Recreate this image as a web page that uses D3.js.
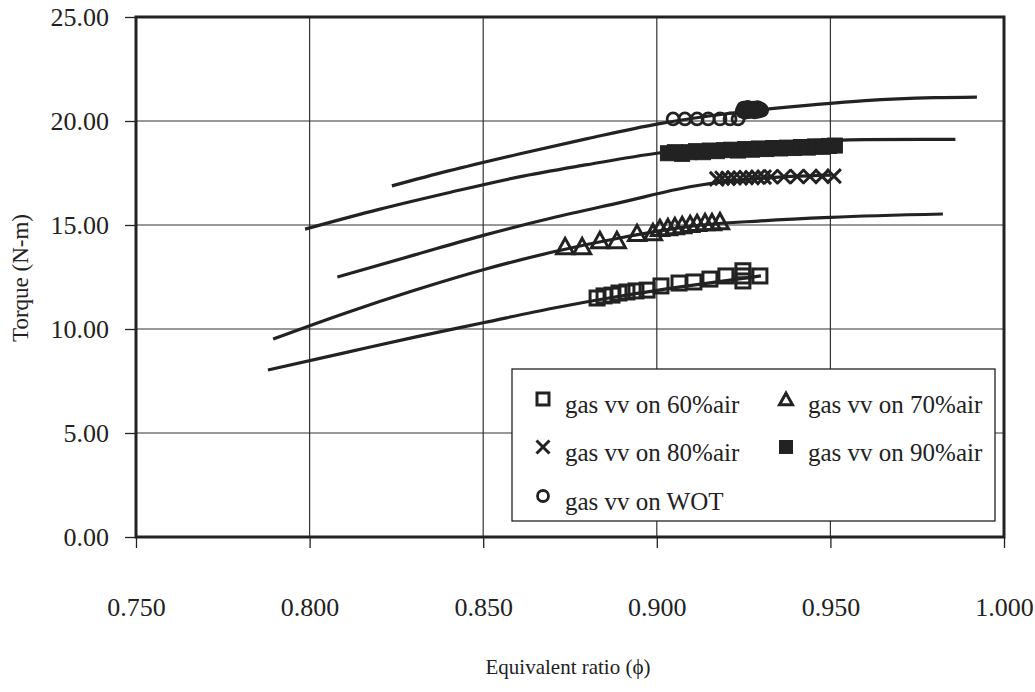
<!DOCTYPE html>
<html><head><meta charset="utf-8">
<script src="https://cdn.jsdelivr.net/npm/d3@7"></script>
<style>
body{margin:0;background:#fff;}
text{font-family:"Liberation Serif","Times New Roman",serif;fill:#222;}
</style></head>
<body><svg id="c" width="1035" height="692"></svg>
<script>
// ---- data ----
const xTicks = [0.750, 0.800, 0.850, 0.900, 0.950, 1.000];
const yTicks = [0, 5, 10, 15, 20, 25];

const sq60X = [0.8828,0.8848,0.8871,0.8891,0.8914,0.8940,0.8972,0.9012,0.9064,0.9107,0.9153,0.9199,0.9248,0.9248,0.9248,0.9297];
const sq60Y = [11.49,11.59,11.63,11.73,11.78,11.83,11.87,12.07,12.21,12.26,12.40,12.55,12.80,12.55,12.31,12.55];

const tri70X = [0.8736,0.8785,0.8836,0.8885,0.8943,0.8989,0.9009,0.9032,0.9052,0.9073,0.9096,0.9116,0.9139,0.9159,0.9182];
const tri70Y = [13.99,13.99,14.28,14.28,14.62,14.66,14.86,14.90,14.95,15.00,15.05,15.10,15.14,15.14,15.19];

const x80X = [0.9173,0.9188,0.9205,0.9222,0.9240,0.9257,0.9274,0.9291,0.9309,0.9329,0.9366,0.9404,0.9441,0.9476,0.9510];
const x80Y = [17.22,17.25,17.24,17.27,17.26,17.28,17.28,17.30,17.30,17.32,17.32,17.33,17.33,17.34,17.35];

const fs90X = [0.9032,0.9052,0.9073,0.9093,0.9113,0.9133,0.9153,0.9173,0.9194,0.9214,0.9234,0.9254,0.9274,0.9294,0.9315,0.9335,0.9355,0.9375,0.9395,0.9415,0.9435,0.9456,0.9476,0.9496,0.9513];
const fs90Y = [18.45,18.50,18.42,18.50,18.55,18.50,18.58,18.55,18.60,18.62,18.58,18.65,18.62,18.68,18.65,18.70,18.68,18.72,18.70,18.75,18.72,18.78,18.76,18.80,18.82];

const wotX = [0.9047,0.9081,0.9116,0.9148,0.9182,0.9211,0.9234,0.9246,0.9250,0.9254,0.9258,0.9262,0.9266,0.9270,0.9274,0.9278,0.9282,0.9286,0.9290,0.9294,0.9298,0.9302];
const wotY = [20.10,20.10,20.10,20.10,20.10,20.10,20.10,20.48,20.62,20.42,20.55,20.65,20.45,20.58,20.50,20.62,20.44,20.56,20.64,20.48,20.58,20.52];

// fitted trend curves
const c60X = [0.788,0.810,0.830,0.850,0.870,0.890,0.910,0.930];
const c60Y = [8.03,8.85,9.60,10.30,11.00,11.60,12.10,12.55];
const c70X = [0.7895,0.810,0.830,0.850,0.870,0.890,0.910,0.930,0.950,0.9824];
const c70Y = [9.52,10.75,11.85,12.85,13.70,14.40,14.95,15.20,15.37,15.53];
const c80X = [0.808,0.830,0.850,0.870,0.890,0.910,0.930,0.950];
const c80Y = [12.50,13.55,14.50,15.35,16.10,16.85,17.25,17.40];
const c90X = [0.7987,0.820,0.840,0.860,0.880,0.900,0.920,0.940,0.960,0.986];
const c90Y = [14.80,15.75,16.55,17.30,17.90,18.45,18.80,19.00,19.10,19.12];
const cWX = [0.8237,0.840,0.860,0.880,0.900,0.920,0.940,0.960,0.980,0.9922];
const cWY = [16.88,17.60,18.40,19.15,19.85,20.35,20.70,20.98,21.12,21.15];

const legendLabels = ["gas vv on 60%air","gas vv on 70%air","gas vv on 80%air","gas vv on 90%air","gas vv on WOT"];

// ---- chart ----
const svg = d3.select("#c");
const L = 136, R = 1004, T = 17, B = 537;
const x = d3.scaleLinear().domain([0.75, 1.0]).range([L, R]);
const y = d3.scaleLinear().domain([0, 25]).range([B, T]);
const ink = "#222";
const serif = '"Liberation Serif","Times New Roman",serif';

// grid
svg.append("g").selectAll("line").data(xTicks.slice(1,-1)).join("line")
  .attr("x1", d=>x(d)).attr("x2", d=>x(d)).attr("y1", T).attr("y2", B)
  .attr("stroke", "#333").attr("stroke-width", 1.2);
svg.append("g").selectAll("line").data(yTicks.slice(1,-1)).join("line")
  .attr("x1", L).attr("x2", R).attr("y1", d=>y(d)).attr("y2", d=>y(d))
  .attr("stroke", "#333").attr("stroke-width", 1.2);

// axes
const yAxis = svg.append("g").attr("transform", `translate(${L},0)`)
  .call(d3.axisLeft(y).tickValues(yTicks).tickFormat(d3.format(".2f")).tickSize(11).tickPadding(16));
const xAxis = svg.append("g").attr("transform", `translate(0,${B})`)
  .call(d3.axisBottom(x).tickValues(xTicks).tickFormat(d3.format(".3f")).tickSize(11).tickPadding(50));
[yAxis, xAxis].forEach(g => {
  g.select(".domain").remove();
  g.selectAll(".tick line").attr("stroke", ink).attr("stroke-width", 1.3);
  g.selectAll(".tick text").attr("font-size", 26).attr("fill", ink)
    .style("font-family", serif);
});

// frame
svg.append("rect").attr("x", L).attr("y", T).attr("width", R-L).attr("height", B-T)
  .attr("fill", "none").attr("stroke", ink).attr("stroke-width", 3);

// curves
const line = d3.line().x(d=>x(d[0])).y(d=>y(d[1])).curve(d3.curveMonotoneX);
const curves = [[c60X,c60Y],[c70X,c70Y],[c80X,c80Y],[c90X,c90Y],[cWX,cWY]];
svg.append("g").selectAll("path").data(curves).join("path")
  .attr("d", c => line(d3.zip(c[0], c[1])))
  .attr("fill", "none").attr("stroke", ink).attr("stroke-width", 3.2).attr("stroke-linecap","butt");

// marker shapes
function drawMarker(g, type, cx, cy, s) {
  if (type === "sq") {
    g.append("rect").attr("x", cx-s/2).attr("y", cy-s/2).attr("width", s).attr("height", s)
      .attr("fill", "none").attr("stroke", ink).attr("stroke-width", 3);
  } else if (type === "fsq") {
    g.append("rect").attr("x", cx-s/2).attr("y", cy-s/2).attr("width", s).attr("height", s)
      .attr("fill", ink).attr("stroke", ink).attr("stroke-width", 1);
  } else if (type === "tri") {
    const h = s*0.9;
    g.append("path").attr("d", `M${cx},${cy-h/2}L${cx+s/2},${cy+h/2}L${cx-s/2},${cy+h/2}Z`)
      .attr("fill", "none").attr("stroke", ink).attr("stroke-width", 3).attr("stroke-linejoin","miter");
  } else if (type === "x") {
    const a = s/2;
    g.append("path").attr("d", `M${cx-a},${cy-a}L${cx+a},${cy+a}M${cx-a},${cy+a}L${cx+a},${cy-a}`)
      .attr("fill", "none").attr("stroke", ink).attr("stroke-width", 3);
  } else if (type === "circ") {
    g.append("circle").attr("cx", cx).attr("cy", cy).attr("r", s/2)
      .attr("fill", "none").attr("stroke", ink).attr("stroke-width", 2.8);
  }
}
const series = [
  {t:"sq", xs:sq60X, ys:sq60Y, s:14},
  {t:"tri", xs:tri70X, ys:tri70Y, s:17},
  {t:"x", xs:x80X, ys:x80Y, s:14},
  {t:"fsq", xs:fs90X, ys:fs90Y, s:15},
  {t:"circ", xs:wotX, ys:wotY, s:12}
];
series.forEach(sr => {
  const g = svg.append("g");
  sr.xs.forEach((v,i) => drawMarker(g, sr.t, x(v), y(sr.ys[i]), sr.s));
});

// legend
const lg = svg.append("g");
lg.append("rect").attr("x", 512).attr("y", 369).attr("width", 483).attr("height", 152)
  .attr("fill", "#fff").attr("stroke", ink).attr("stroke-width", 1.3);
const pos = [[543,399],[786,399],[543,447],[786,447],[543,496]];
const ltype = ["sq","tri","x","fsq","circ"];
const lsize = [12,13,13,13,11];
legendLabels.forEach((lab,i) => {
  drawMarker(lg, ltype[i], pos[i][0], pos[i][1], lsize[i]);
  lg.append("text").attr("x", pos[i][0]+22).attr("y", pos[i][1]+14)
    .attr("font-size", 25).text(lab);
});

// axis titles
svg.append("text").attr("transform", "translate(28,278) rotate(-90)")
  .attr("text-anchor", "middle").attr("font-size", 23).text("Torque (N-m)");
svg.append("text").attr("x", 568).attr("y", 674)
  .attr("text-anchor", "middle").attr("font-size", 21).text("Equivalent ratio (\u03D5)");
</script></body></html>
